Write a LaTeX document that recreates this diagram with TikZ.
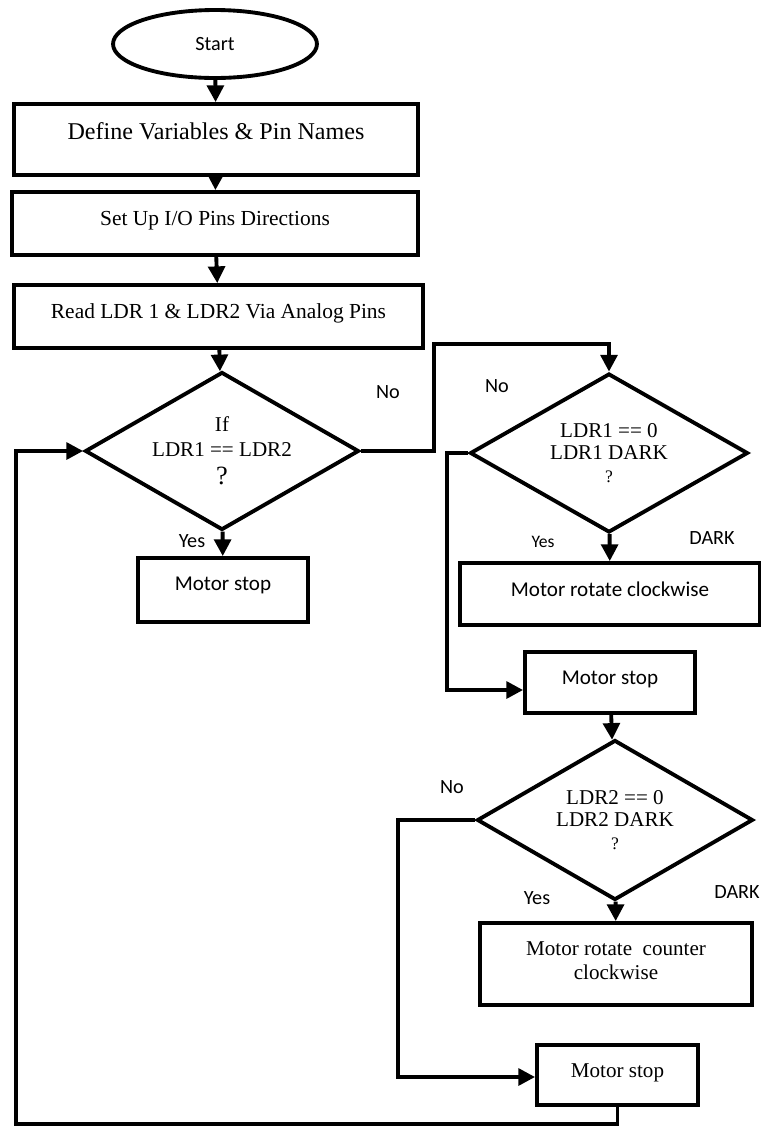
\documentclass[tikz,border=0pt]{standalone}
\usepackage{fontspec}
\setmainfont{Liberation Serif}
\newfontfamily\calfont{Carlito}
\usetikzlibrary{shapes.geometric,arrows.meta,positioning}

\tikzset{
  term/.style={ellipse, draw, line width=2.2pt, minimum width=4.08cm, minimum height=1.36cm, font=\calfont\fontsize{11.5}{13}\selectfont},
  proc/.style={rectangle, draw, line width=2.2pt, align=center, inner sep=2pt},
  cond/.style={diamond, draw, line width=2.2pt, align=center, inner sep=0pt, aspect=1.73},
  lbl/.style={font=\calfont\fontsize{11.5}{13}\selectfont, inner sep=0pt},
  flow/.style={line width=2.2pt, -{Triangle[length=9.5pt,width=9.5pt]}},
  wire/.style={line width=2.2pt}
}

\begin{document}
\begin{tikzpicture}[x=0.02cm, y=-0.02cm]
\useasboundingbox (0,0) rectangle (761,1127);

% main column
\node[term] (start) at (215,44) {Start};
\node[proc, minimum width=8.08cm, minimum height=1.42cm, text depth=10pt,
      font=\fontsize{13.7}{15}\selectfont] (define) at (216,139.5) {Define Variables \& Pin Names};
\node[proc, minimum width=8.12cm, minimum height=1.26cm, text depth=6pt,
      font=\fontsize{12.2}{13}\selectfont] (setup) at (215,223.5) {Set Up I/O Pins Directions};
\node[proc, minimum width=8.18cm, minimum height=1.26cm, text depth=6pt,
      font=\fontsize{12.2}{13}\selectfont] (read) at (218.5,316.5) {Read LDR 1 \& LDR2 Via Analog Pins};
\node[cond, minimum width=5.48cm, minimum height=3.16cm,
      font=\fontsize{12}{14}\selectfont] (equal) at (222,451)
      {If\\LDR1 == LDR2\\[2pt]{\fontsize{15}{16}\selectfont ?}};
\node[proc, minimum width=3.4cm, minimum height=1.28cm, text depth=7pt,
      font=\calfont\fontsize{12}{14}\selectfont] (stopA) at (223,590) {Motor stop};

% right column
\node[cond, minimum width=5.56cm, minimum height=3.18cm,
      font=\fontsize{12}{13}\selectfont] (dark1) at (609,453)
      {LDR1 == 0\\LDR1 DARK\\{\fontsize{10}{11}\selectfont ?}};
\node[proc, minimum width=6.0cm, minimum height=1.24cm, text depth=6pt,
      font=\calfont\fontsize{12}{14}\selectfont] (cw) at (610,594) {Motor rotate clockwise};
\node[proc, minimum width=3.4cm, minimum height=1.22cm, text depth=5pt,
      font=\calfont\fontsize{12}{14}\selectfont] (stopB) at (610,682.5) {Motor stop};
\node[cond, minimum width=5.52cm, minimum height=3.2cm,
      font=\fontsize{12}{13}\selectfont] (dark2) at (615,820)
      {LDR2 == 0\\LDR2 DARK\\{\fontsize{10}{11}\selectfont ?}};
\node[proc, minimum width=5.44cm, minimum height=1.64cm, text depth=4pt,
      font=\fontsize{12}{14}\selectfont] (ccw) at (616,964) {Motor rotate\enspace counter\\clockwise};
\node[proc, minimum width=3.22cm, minimum height=1.2cm, text depth=5pt,
      font=\fontsize{12}{14}\selectfont] (stopC) at (617.5,1075) {Motor stop};

% labels
\node[lbl] (noA) at (388,392) {No};
\node[lbl] (yesA) at (192,541) {Yes};
\node[lbl] (noB) at (497,386) {No};
\node[lbl, font=\calfont\fontsize{10}{12}\selectfont] (yesB) at (543,542) {Yes};
\node[lbl] (darkB) at (712,538) {DARK};
\node[lbl] (noC) at (452,787) {No};
\node[lbl] (yesC) at (537,898) {Yes};
\node[lbl] (darkC) at (737,892) {DARK};

% corners
\coordinate (jogA) at (434,344);
\coordinate (jogB) at (447,690);
\coordinate (jogC) at (398,1077);
\coordinate (jogD) at (16,1124);

% connectors
\draw[flow] (start) -- (define);
\draw[flow] (define) -- (setup);
\draw[flow] (setup) -- (read);
\draw[flow] (read) -- (equal);
\draw[flow] (equal) -- (stopA);
\draw[flow] (equal.east) -| (jogA) -| (dark1.north);
\draw[flow] (dark1) -- (cw);
\draw[flow] (dark1.west) -| (jogB) -- (jogB -| stopB.west);
\draw[flow] (stopB) -- (dark2);
\draw[flow] (dark2) -- (ccw);
\draw[flow] (dark2.west) -| (jogC) -- (jogC -| stopC.west);
\draw[flow] (stopC.south) |- (jogD) |- (equal.west);

\end{tikzpicture}
\end{document}
